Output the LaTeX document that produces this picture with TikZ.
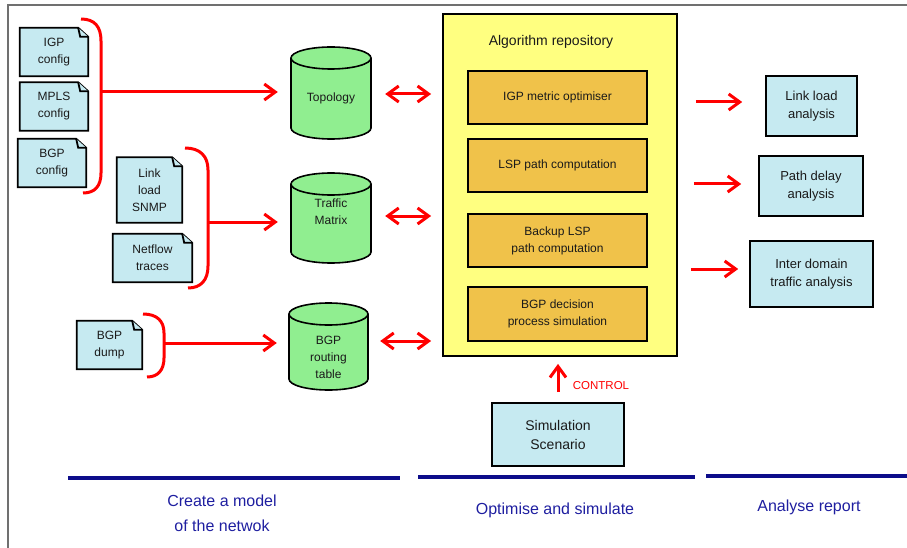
\documentclass[tikz,border=0pt]{standalone}
\usepackage{fontspec}
\setmainfont{Liberation Sans}
\usetikzlibrary{arrows.meta,backgrounds,calc}

\definecolor{docblue}{HTML}{C6EAF1}
\definecolor{cylgreen}{HTML}{90EE90}
\definecolor{repoyellow}{HTML}{FFFF80}
\definecolor{algoorange}{HTML}{F0C24A}
\definecolor{flowred}{HTML}{FF0000}
\definecolor{phaseline}{HTML}{0D0D8A}
\definecolor{phasetext}{HTML}{1E1EA0}
\definecolor{inktext}{HTML}{1A1A1A}
\definecolor{framegray}{HTML}{707070}

% note-shaped outline drawn around a named node
\newcommand\docoutline[1]{%
  \filldraw[docline] (#1.north west) -- ([xshift=-10pt]#1.north east)
    -- ([yshift=-9pt]#1.north east) -- (#1.south east) -- (#1.south west) -- cycle;
  \draw[docline] ([xshift=-10pt]#1.north east) -- ([xshift=-8pt,yshift=-9pt]#1.north east)
    -- ([yshift=-9pt]#1.north east);}

% filled cylinder: left, top, right, bottom
\newcommand\drumshape[4]{%
  \filldraw[drumline] ({#1},{#2+11}) -- ({#1},{#4-11})
    arc[start angle=180,end angle=0,x radius={(#3-#1)/2},y radius=11]
    -- ({#3},{#2+11})
    arc[start angle=0,end angle=-180,x radius={(#3-#1)/2},y radius=11] -- cycle;
  \draw[drumline] ({#1},{#2+11})
    arc[start angle=180,end angle=0,x radius={(#3-#1)/2},y radius=11];}

\begin{document}
\begin{tikzpicture}[x=1pt,y=-1pt,
  every node/.style={text=inktext, align=center, inner sep=0pt},
  docline/.style={draw=black, line width=1.8pt, fill=docblue, line join=miter},
  drumline/.style={draw=black, line width=1.6pt, fill=cylgreen},
  docnote/.style={minimum width=#1, font=\fontsize{12}{17}\selectfont},
  drumtext/.style={minimum width=#1, font=\fontsize{12}{17}\selectfont},
  algobox/.style={draw=black, line width=1.6pt, fill=algoorange,
    minimum width=179pt, minimum height=53pt, font=\fontsize{12}{17}\selectfont},
  resultbox/.style={draw=black, line width=1.6pt, fill=docblue,
    font=\fontsize{13}{18}\selectfont},
  bracketline/.style={draw=flowred, line width=3pt},
  flowarrow/.style={draw=flowred, line width=3pt,
    -{Straight Barb[length=11pt,width=16pt]}},
  bothways/.style={draw=flowred, line width=3pt,
    {Straight Barb[length=11pt,width=16pt]}-{Straight Barb[length=11pt,width=16pt]}},
  phase/.style={draw=phaseline, line width=4pt},
  phaselabel/.style={text=phasetext, font=\fontsize{16}{25}\selectfont}]

\useasboundingbox (0,0) rectangle (907,548);

% frame
\draw[framegray, line width=1.6pt] (8,548) -- (8,5) -- (907,5);

% input documents
\node[docnote=68pt, minimum height=48pt] (igp)  at (54,52)    {IGP\\config};
\node[docnote=68pt, minimum height=48pt] (mpls) at (54,106.5) {MPLS\\config};
\node[docnote=68pt, minimum height=48pt] (bgpc) at (52,163)   {BGP\\config};
\node[docnote=65pt, minimum height=65pt] (snmp) at (149.5,190) {Link\\load\\SNMP};
\node[docnote=79pt, minimum height=48pt] (netflow) at (152.5,258) {Netflow\\traces};
\node[docnote=65pt, minimum height=48pt] (bgpd) at (109.5,345) {BGP\\dump};

% model stores
\node[drumtext=80pt] (topo) at (331,98)    {Topology};
\node[drumtext=80pt] (tm)   at (331,212)   {Traffic\\Matrix};
\node[drumtext=79pt] (bgpt) at (328.5,357) {BGP\\routing\\table};

\begin{scope}[on background layer]
  \foreach \d in {igp,mpls,bgpc,snmp,netflow,bgpd} {\docoutline{\d}}
  \drumshape{291}{47}{371}{139}
  \drumshape{291}{173}{371}{263}
  \drumshape{289}{303}{368}{390}
\end{scope}

% grouping brackets
\draw[bracketline] (81,19) .. controls (95,19) and (101,27) .. (101,41)
  -- (101,173) .. controls (101,186) and (95,193) .. (83,193);
\draw[bracketline] (185,148) .. controls (200,148) and (208,156) .. (208,170)
  -- (208,266) .. controls (208,280) and (201,288) .. (188,288);
\draw[bracketline] (143,314) .. controls (157,314) and (164,321) .. (164,333)
  -- (164,358) .. controls (164,370) and (158,377) .. (147,377);
\coordinate (b1) at (101,92);
\coordinate (b2) at (208,222);
\coordinate (b3) at (164,343);

\draw[flowarrow, shorten >=13pt] (b1) -- (b1 -| topo.west);
\draw[flowarrow, shorten >=13pt] (b2) -- (b2 -| tm.west);
\draw[flowarrow, shorten >=12pt] (b3) -- (b3 -| bgpt.west);

% algorithm repository
\node[draw=black, line width=1.8pt, fill=repoyellow,
  minimum width=234pt, minimum height=342pt] (repo) at (560,185) {};
\node[font=\fontsize{14}{17}\selectfont] (repotitle) at (551,42) {Algorithm repository};
\node[algobox] (igpo)   at (557.5,97.5)  {IGP metric optimiser};
\node[algobox] (lsp)    at (557.5,165.5) {LSP path computation};
\node[algobox] (blsp)   at (557.5,240.5) {Backup LSP\\path computation};
\node[algobox, minimum height=54pt] (bgpsim) at (557.5,314) {BGP decision\\process simulation};

\draw[bothways, shorten <=14pt, shorten >=11pt]
  ([yshift=4pt]topo.east) -- ([yshift=4pt]topo.east -| repo.west);
\draw[bothways, shorten <=14pt, shorten >=11pt]
  ([yshift=-4pt]tm.east) -- ([yshift=-4pt]tm.east -| repo.west);
\draw[bothways, shorten <=12pt, shorten >=11pt]
  ([yshift=16pt]bgpt.east) -- ([yshift=16pt]bgpt.east -| repo.west);

% analysis outputs
\node[resultbox, minimum width=91pt,  minimum height=60pt] (lla) at (811.5,106) {Link load\\analysis};
\node[resultbox, minimum width=104pt, minimum height=60pt] (pda) at (811,186)   {Path delay\\analysis};
\node[resultbox, minimum width=123pt, minimum height=66pt] (ida) at (811.5,274) {Inter domain\\traffic analysis};

\draw[flowarrow, shorten <=18pt, shorten >=23pt]
  ([yshift=4pt]lla.west -| repo.east) -- ([yshift=4pt]lla.west);
\draw[flowarrow, shorten <=16pt, shorten >=17pt]
  ([yshift=2pt]pda.west -| repo.east) -- ([yshift=2pt]pda.west);
\draw[flowarrow, shorten <=13pt, shorten >=11pt]
  ([yshift=5pt]ida.west -| repo.east) -- ([yshift=5pt]ida.west);

% scenario control
\node[resultbox, minimum width=132pt, minimum height=63pt,
  font=\fontsize{14}{19}\selectfont] (sim) at (558,434.5) {Simulation\\Scenario};
\draw[flowarrow, shorten <=10pt, shorten >=7pt] (sim.north) -- (sim.north |- repo.south);
\node[text=flowred, font=\fontsize{11.5}{14}\selectfont] (ctrl) at (601,386) {CONTROL};

% phases
\draw[phase] (68,478) -- (400,478);
\draw[phase] (418,477) -- (695,477);
\draw[phase] (706,476) -- (907,476);
\node[phaselabel] (ph1) at (222,513) {Create a model\\of the netwok};
\node[phaselabel] (ph2) at (555,510) {Optimise and simulate};
\node[phaselabel] (ph3) at (809,507) {Analyse report};

\end{tikzpicture}
\end{document}
